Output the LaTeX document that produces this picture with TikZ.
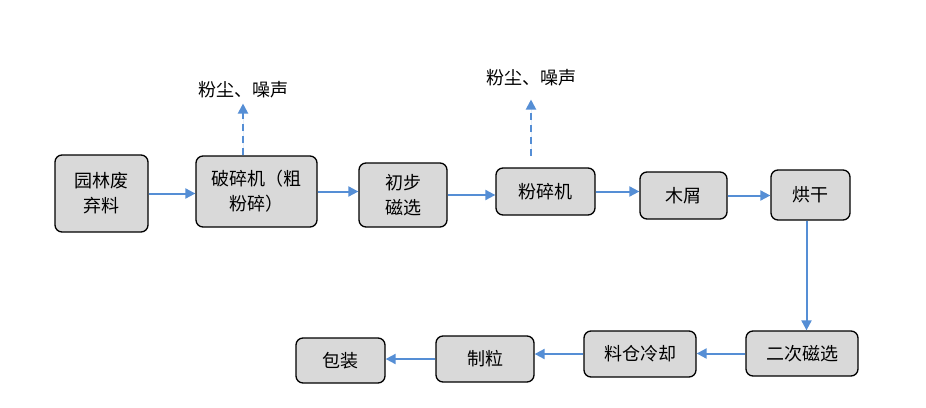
\documentclass[tikz,border=0pt]{standalone}
\usepackage{fontspec}
\setmainfont{Noto Sans CJK SC}
\usetikzlibrary{arrows.meta}
\definecolor{flowblue}{RGB}{85,142,213}
\definecolor{boxgray}{RGB}{217,217,217}

\begin{document}
\begin{tikzpicture}[x=1pt,y=-1pt,>={Triangle[length=10pt,width=10pt]},
   proc/.style={draw,line width=1.3pt,fill=boxgray,rounded corners=7pt,
                inner sep=0pt,align=center,font=\fontsize{18}{25}\selectfont},
   waste/.style={inner sep=2pt,font=\fontsize{18}{20}\selectfont},
   flow/.style={->,draw=flowblue,fill=flowblue,line width=2pt},
   emit/.style={flow,dash pattern=on 7pt off 5pt}]
   \useasboundingbox[fill=white] (0,0) rectangle (926,407);

   % top row
   \node[proc,minimum width=93pt,minimum height=77pt]  (p1) at (101.5,193.5) {园林废\\弃料};
   \node[proc,minimum width=121pt,minimum height=71pt] (p2) at (256.5,191.5) {破碎机（粗\\粉碎）};
   \node[proc,minimum width=88pt,minimum height=64pt]  (p3) at (403,195)     {初步\\磁选};
   \node[proc,minimum width=99pt,minimum height=47pt]  (p4) at (545.5,191.5) {粉碎机};
   \node[proc,minimum width=87pt,minimum height=47pt]  (p5) at (683.5,195.5) {木屑};
   \node[proc,minimum width=79pt,minimum height=50pt]  (p6) at (810.5,195)   {烘干};

   % bottom row
   \node[proc,minimum width=112pt,minimum height=45pt] (p7)  at (802,353.5)  {二次磁选};
   \node[proc,minimum width=112pt,minimum height=46pt] (p8)  at (640,354)    {料仓冷却};
   \node[proc,minimum width=98pt,minimum height=46pt]  (p9)  at (485,359)    {制粒};
   \node[proc,minimum width=89pt,minimum height=45pt]  (p10) at (340.5,360.5) {包装};

   % emissions
   \node[waste] (e1) at (243,90) {粉尘、噪声};
   \node[waste] (e2) at (531,78) {粉尘、噪声};
   \coordinate (c2) at (531,156);

   \draw[flow] (p1.east) -- (p1.east -| p2.west);
   \draw[flow] (p2.east) -- (p2.east -| p3.west);
   \draw[flow] (p3.east) -- (p3.east -| p4.west);
   \draw[flow] (p4.east) -- (p4.east -| p5.west);
   \draw[flow] (p5.east) -- (p5.east -| p6.west);
   \draw[flow] ([xshift=-4pt]p6.south) -- ([xshift=-4pt]p6.south |- p7.north);
   \draw[flow] (p7.west) -- (p7.west -| p8.east);
   \draw[flow] (p8.west) -- (p8.west -| p9.east);
   \draw[flow] (p9.west) -- (p9.west -| p10.east);

   \draw[emit] (p2.north -| e1) -- ([yshift=-3pt]e1.south);
   \draw[emit] (c2) -- ([yshift=-11pt]e2.south);
\end{tikzpicture}
\end{document}
